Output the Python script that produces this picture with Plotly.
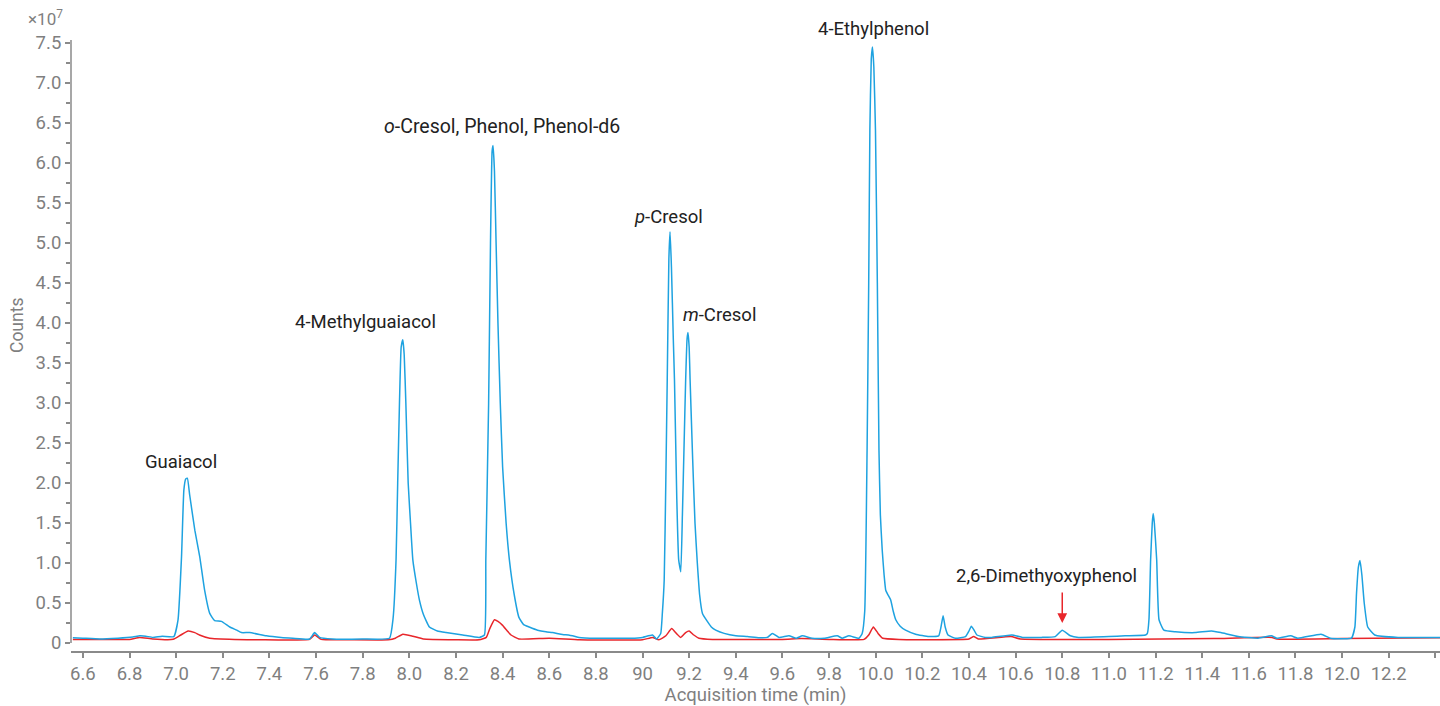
import plotly.graph_objects as go

# ---- data (counts in units of 1e7) ----
blue_x = [6.557, 6.60, 6.673, 6.75, 6.814, 6.844, 6.87, 6.90, 6.94, 6.99,
          7.008, 7.023, 7.033, 7.041, 7.048, 7.058, 7.08, 7.101, 7.122, 7.144,
          7.165, 7.194, 7.23, 7.26, 7.28, 7.315, 7.387, 7.45, 7.50, 7.572,
          7.594, 7.615, 7.67, 7.80, 7.915, 7.93, 7.943, 7.95, 7.958, 7.965,
          7.972, 7.978, 7.985, 7.995, 8.005, 8.015, 8.03, 8.043, 8.06, 8.086,
          8.12, 8.157, 8.229, 8.30, 8.322, 8.328, 8.34, 8.348, 8.355, 8.359,
          8.365, 8.372, 8.38, 8.39, 8.40, 8.415, 8.429, 8.45, 8.47, 8.49,
          8.514, 8.55, 8.586, 8.614, 8.65, 8.70, 8.728, 8.80, 8.87, 8.95,
          9.0, 9.043, 9.06, 9.078, 9.085, 9.093, 9.10, 9.106, 9.113, 9.118,
          9.124, 9.132, 9.137, 9.147, 9.155, 9.164, 9.171, 9.178, 9.185, 9.191,
          9.195, 9.20, 9.204, 9.215, 9.225, 9.235, 9.245, 9.257, 9.278, 9.295,
          9.314, 9.35, 9.40, 9.45, 9.50, 9.535, 9.557, 9.585, 9.628, 9.66,
          9.685, 9.727, 9.78, 9.835, 9.856, 9.885, 9.928, 9.942, 9.953, 9.963,
          9.970, 9.975, 9.981, 9.986, 9.992, 9.999, 10.007, 10.014, 10.02, 10.028,
          10.036, 10.043, 10.053, 10.064, 10.075, 10.086, 10.105, 10.128, 10.171, 10.228,
          10.27, 10.28, 10.289, 10.298, 10.31, 10.342, 10.385, 10.40, 10.41, 10.422,
          10.434, 10.47, 10.498, 10.584, 10.63, 10.71, 10.77, 10.80, 10.835, 10.87,
          11.0, 11.07, 11.157, 11.165, 11.172, 11.179, 11.186, 11.19, 11.195, 11.205,
          11.215, 11.236, 11.285, 11.37, 11.44, 11.48, 11.555, 11.64, 11.697, 11.72,
          11.78, 11.81, 11.91, 11.95, 12.04, 12.055, 12.062, 12.07, 12.077, 12.085,
          12.095, 12.11, 12.14, 12.24, 12.42]
blue_y = [0.066, 0.06, 0.05, 0.06, 0.075, 0.09, 0.085, 0.07, 0.085, 0.08,
          0.29, 1.08, 1.91, 2.05, 2.06, 1.85, 1.41, 1.08, 0.66, 0.37,
          0.28, 0.27, 0.20, 0.16, 0.13, 0.13, 0.09, 0.07, 0.06, 0.05,
          0.13, 0.07, 0.05, 0.05, 0.06, 0.3, 1.04, 2.0, 3.04, 3.7,
          3.79, 3.6, 3.0, 2.0, 1.5, 1.04, 0.75, 0.54, 0.36, 0.2,
          0.15, 0.13, 0.10, 0.07, 0.1, 1.04, 3.0, 5.0, 6.15, 6.22,
          5.9, 5.0, 4.0, 3.0, 2.2, 1.5, 1.04, 0.6, 0.32, 0.23,
          0.2, 0.16, 0.14, 0.13, 0.11, 0.09, 0.07, 0.06, 0.06, 0.06,
          0.07, 0.1, 0.05, 0.12, 0.37, 0.79, 2.04, 3.29, 4.8, 5.14,
          4.7, 3.8, 3.29, 1.8, 1.04, 0.89, 1.6, 2.45, 3.29, 3.8,
          3.88, 3.7, 3.29, 2.3, 1.5, 1.0, 0.6, 0.37, 0.27, 0.2,
          0.16, 0.12, 0.09, 0.08, 0.065, 0.07, 0.12, 0.07, 0.09, 0.06,
          0.09, 0.06, 0.06, 0.09, 0.06, 0.09, 0.06, 0.12, 0.4, 2.41,
          4.5, 6.41, 7.3, 7.45, 7.2, 6.41, 4.5, 2.41, 1.6, 1.16,
          0.85, 0.66, 0.6, 0.54, 0.4, 0.29, 0.21, 0.16, 0.11, 0.08,
          0.09, 0.2, 0.34, 0.2, 0.1, 0.06, 0.08, 0.15, 0.21, 0.16,
          0.1, 0.07, 0.07, 0.10, 0.07, 0.07, 0.08, 0.16, 0.09, 0.07,
          0.08, 0.09, 0.1, 0.12, 0.3, 1.04, 1.5, 1.62, 1.5, 1.04,
          0.29, 0.16, 0.14, 0.13, 0.15, 0.13, 0.08, 0.06, 0.09, 0.06,
          0.09, 0.06, 0.11, 0.06, 0.06, 0.2, 0.62, 0.95, 1.03, 0.85,
          0.5, 0.2, 0.10, 0.07, 0.07]

red_x = [6.557, 6.70, 6.80, 6.844, 6.90, 6.987, 7.02, 7.051, 7.08, 7.10,
         7.144, 7.25, 7.358, 7.572, 7.594, 7.622, 7.75, 7.91, 7.94, 7.972,
         8.015, 8.06, 8.20, 8.30, 8.33, 8.345, 8.365, 8.38, 8.40, 8.42,
         8.436, 8.47, 8.60, 8.73, 9.0, 9.043, 9.07, 9.10, 9.125, 9.145,
         9.164, 9.185, 9.20, 9.22, 9.242, 9.30, 9.60, 9.68, 9.80, 9.95,
         9.97, 9.99, 10.01, 10.03, 10.10, 10.40, 10.42, 10.44, 10.58, 10.62,
         11.0, 11.45, 11.70, 11.72, 12.0, 12.42]
red_y = [0.045, 0.045, 0.045, 0.07, 0.05, 0.046, 0.1, 0.15, 0.13, 0.10,
         0.06, 0.045, 0.04, 0.045, 0.10, 0.045, 0.04, 0.04, 0.06, 0.11,
         0.085, 0.05, 0.04, 0.04, 0.07, 0.18, 0.29, 0.27, 0.22, 0.15,
         0.10, 0.05, 0.06, 0.04, 0.04, 0.07, 0.04, 0.09, 0.18, 0.12,
         0.07, 0.13, 0.15, 0.1, 0.06, 0.045, 0.045, 0.055, 0.045, 0.045,
         0.1, 0.20, 0.12, 0.06, 0.045, 0.05, 0.08, 0.05, 0.08, 0.05,
         0.045, 0.055, 0.07, 0.05, 0.055, 0.065]

x_tickvals = [6.6, 6.8, 7.0, 7.2, 7.4, 7.6, 7.8, 8.0, 8.2, 8.4, 8.6, 8.8, 9.0,
              9.2, 9.4, 9.6, 9.8, 10.0, 10.2, 10.4, 10.6, 10.8, 11.0, 11.2,
              11.4, 11.6, 11.8, 12.0, 12.2, 12.4]
x_ticktext = ["6.6", "6.8", "7.0", "7.2", "7.4", "7.6", "7.8", "8.0", "8.2", "8.4",
              "8.6", "8.8", "90", "9.2", "9.4", "9.6", "9.8", "10.0", "10.2", "10.4",
              "10.6", "10.8", "11.0", "11.2", "11.4", "11.6", "11.8", "12.0", "12.2", ""]
y_tickvals = [0, 0.5, 1.0, 1.5, 2.0, 2.5, 3.0, 3.5, 4.0, 4.5, 5.0, 5.5, 6.0, 6.5, 7.0, 7.5]
y_ticktext = ["0", "0.5", "1.0", "1.5", "2.0", "2.5", "3.0", "3.5", "4.0", "4.5",
              "5.0", "5.5", "6.0", "6.5", "7.0", "7.5"]

peak_labels = ["Guaiacol", "4-Methylguaiacol", "<i>o</i>-Cresol, Phenol, Phenol-d6",
               "<i>p</i>-Cresol", "<i>m</i>-Cresol", "4-Ethylphenol", "2,6-Dimethyoxyphenol"]
label_x = [7.02, 7.812, 8.399, 9.11, 9.332, 9.99, 10.733]
label_y = [2.26, 4.01, 6.46, 5.33, 4.10, 7.675, 0.84]
label_size = [18.5, 18.5, 19.5, 18.5, 18.5, 18.5, 18.5]

arrow_x = 10.8
arrow_tip_y = 0.25
arrow_tail_y = 0.65

BLUE = "#1ea2e0"
RED = "#e8262b"
GRAY = "#7f7f7f"
AXIS = "#8a8a8a"
FONT = "Roboto, Open Sans, sans-serif"

W, H = 1440, 706
L, R, T, B = 71, 0, 40, 55
pw, ph = W - L - R, H - T - B
Y_RANGE = [-0.1, 7.5375]


def px2paper(px, py):
    return (px - L) / pw, 1 - (py - T) / ph


def y2paper(v):
    return (v - Y_RANGE[0]) / (Y_RANGE[1] - Y_RANGE[0])


fig = go.Figure()
fig.add_trace(go.Scatter(x=red_x, y=red_y, mode="lines",
                         line=dict(color=RED, width=1.5, shape="spline", smoothing=0.4),
                         hoverinfo="skip"))
fig.add_trace(go.Scatter(x=blue_x, y=blue_y, mode="lines",
                         line=dict(color=BLUE, width=1.5, shape="spline", smoothing=0.4),
                         hoverinfo="skip"))

for t, x, y, s in zip(peak_labels, label_x, label_y, label_size):
    fig.add_annotation(x=x, y=y2paper(y), xref="x", yref="paper", text=t,
                       showarrow=False,
                       font=dict(family=FONT, size=s, color="#222222"),
                       xanchor="center", yanchor="middle")

fig.add_annotation(x=arrow_x, y=arrow_tip_y, ax=arrow_x, ay=arrow_tail_y,
                   xref="x", yref="y", axref="x", ayref="y", text="",
                   showarrow=True, arrowhead=2, arrowsize=1.3, arrowwidth=1.5,
                   arrowcolor=RED)

mx, my = px2paper(45, 18)
fig.add_annotation(x=mx, y=my, xref="paper", yref="paper", text="×10<sup>7</sup>",
                   showarrow=False, font=dict(family=FONT, size=17, color=GRAY),
                   xanchor="center", yanchor="middle")
cx, cy = px2paper(17, 326)
fig.add_annotation(x=cx, y=cy, xref="paper", yref="paper", text="Counts",
                   showarrow=False, textangle=-90,
                   font=dict(family=FONT, size=17.5, color=GRAY),
                   xanchor="center", yanchor="middle")

# y-axis line from 0 to top
fig.add_shape(type="line", xref="paper", yref="y", x0=0, x1=0, y0=0, y1=Y_RANGE[1],
              line=dict(color=AXIS, width=1.5))

fig.update_layout(
    width=W, height=H,
    margin=dict(l=L, r=R, t=T, b=B),
    paper_bgcolor="white", plot_bgcolor="white",
    showlegend=False,
    font=dict(family=FONT, color=GRAY),
    xaxis=dict(range=[6.549, 12.42], tickmode="array", tickvals=x_tickvals,
               ticktext=x_ticktext, showgrid=False, zeroline=False,
               showline=True, linecolor=AXIS, linewidth=1.5,
               ticks="outside", ticklen=5, tickcolor=AXIS, tickwidth=1.5,
               tickfont=dict(family=FONT, size=18.5, color=GRAY),
               title=dict(text="Acquisition time (min)", standoff=8,
                          font=dict(family=FONT, size=18.5, color=GRAY))),
    yaxis=dict(range=Y_RANGE, tickmode="array", tickvals=y_tickvals,
               ticktext=y_ticktext, showgrid=False, zeroline=False,
               showline=False, ticks="outside", ticklen=5, tickcolor=AXIS,
               tickwidth=1.5, tickfont=dict(family=FONT, size=18.5, color=GRAY),
               minor=dict(tick0=0, dtick=0.25, ticks="outside", ticklen=4,
                          tickcolor=AXIS, tickwidth=1.5)),
)

fig.write_html("out.html")
